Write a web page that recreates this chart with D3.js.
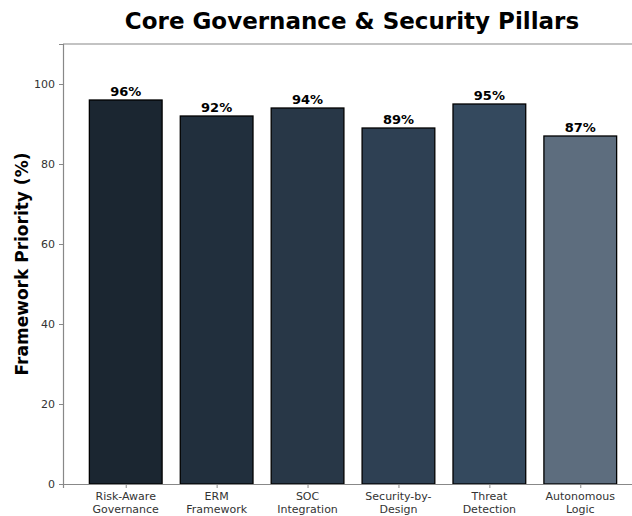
<!DOCTYPE html>
<html>
<head>
<meta charset="utf-8">
<script src="https://cdn.jsdelivr.net/npm/d3@7"></script>
<style>
  body { margin: 0; background: white; }
  svg { display: block; font-family: 'DejaVu Sans', sans-serif; }
</style>
</head>
<body>
<svg id="chart" width="632" height="516"></svg>
<script>
const categories = [['Risk-Aware', 'Governance'], ['ERM', 'Framework'], ['SOC', 'Integration'], ['Security-by-', 'Design'], ['Threat', 'Detection'], ['Autonomous', 'Logic']]
const values = [96, 92, 94, 89, 95, 87]
const colors = ['#1B2631', '#212F3D', '#283747', '#2E4053', '#34495E', '#5D6D7E']
const yTicks = [0, 20, 40, 60, 80, 100]

const svg = d3.select('#chart')
const plotLeft = 63, plotTop = 44, plotBottom = 484
// axes run a bit past the right edge of the window, as in the original
const plotRight = 643

// matplotlib style: bar width 0.8, xlim -0.69..5.69
const xScale = d3.scaleLinear()
                 .domain([-0.69, values.length - 1 + 0.69])
                 .range([plotLeft, plotRight])
const yScale = d3.scaleLinear()
                 .domain([0, 110])
                 .range([plotBottom, plotTop])
const barW = xScale(0.8) - xScale(0)

svg.selectAll('rect.bar')
   .data(values)
   .enter()
   .append('rect')
   .attr('class', 'bar')
   .attr('x', (d, i) => xScale(i - 0.4))
   .attr('y', d => yScale(d))
   .attr('width', barW)
   .attr('height', d => yScale(0) - yScale(d))
   .style('fill', (d, i) => colors[i])
   .style('stroke', '#000')
   .style('stroke-width', 1.3)

svg.selectAll('text.val')
   .data(values)
   .enter()
   .append('text')
   .attr('class', 'val')
   .attr('x', (d, i) => xScale(i))
   .attr('y', d => yScale(d) - 4)
   .style('text-anchor', 'middle')
   .style('font-size', '13px')
   .style('font-weight', 'bold')
   .style('fill', '#000')
   .text(d => d + '%')

// frame
const spine = '#888'
svg.append('line').attr('x1', plotLeft).attr('x2', plotRight).attr('y1', plotTop).attr('y2', plotTop)
   .style('stroke', spine).style('stroke-width', 1.2)
svg.append('line').attr('x1', plotRight).attr('x2', plotRight).attr('y1', plotTop).attr('y2', plotBottom)
   .style('stroke', spine).style('stroke-width', 1.2)

const yAxis = svg.append('g')
                 .attr('transform', `translate(${plotLeft},0)`)
                 .call(d3.axisLeft(yScale).tickValues(yTicks).tickSize(4).tickPadding(4))
const xAxis = svg.append('g')
                 .attr('transform', `translate(0,${plotBottom})`)
                 .call(d3.axisBottom(xScale).tickValues(d3.range(values.length)).tickSize(4).tickFormat(''))

;[yAxis, xAxis].forEach(ax => {
  ax.select('.domain').style('stroke', spine).style('stroke-width', 1.2)
  ax.selectAll('.tick line').style('stroke', spine).style('stroke-width', 1)
})
yAxis.selectAll('.tick text')
     .style('font-family', 'DejaVu Sans')
     .style('font-size', '11px')
     .style('fill', '#333')

const catLabels = svg.selectAll('text.cat')
   .data(categories)
   .enter()
   .append('text')
   .attr('class', 'cat')
   .attr('x', (d, i) => xScale(i))
   .attr('y', plotBottom + 16)
   .style('text-anchor', 'middle')
   .style('font-size', '11px')
   .style('fill', '#333')
catLabels.selectAll('tspan')
   .data(d => d)
   .enter()
   .append('tspan')
   .attr('x', function() { return d3.select(this.parentNode).attr('x') })
   .attr('dy', (d, i) => i == 0 ? 0 : 13)
   .text(d => d)

svg.append('text')
   .text('Framework Priority (%)')
   .attr('transform', `translate(28, ${(plotTop + plotBottom) / 2})rotate(-90)`)
   .style('text-anchor', 'middle')
   .style('font-size', '17px')
   .style('font-weight', 'bold')
   .style('fill', '#000')

svg.append('text')
   .text('Core Governance & Security Pillars')
   .attr('x', 352)
   .attr('y', 29)
   .style('text-anchor', 'middle')
   .style('font-size', '23px')
   .style('font-weight', 'bold')
   .style('fill', '#000')
</script>
</body>
</html>
